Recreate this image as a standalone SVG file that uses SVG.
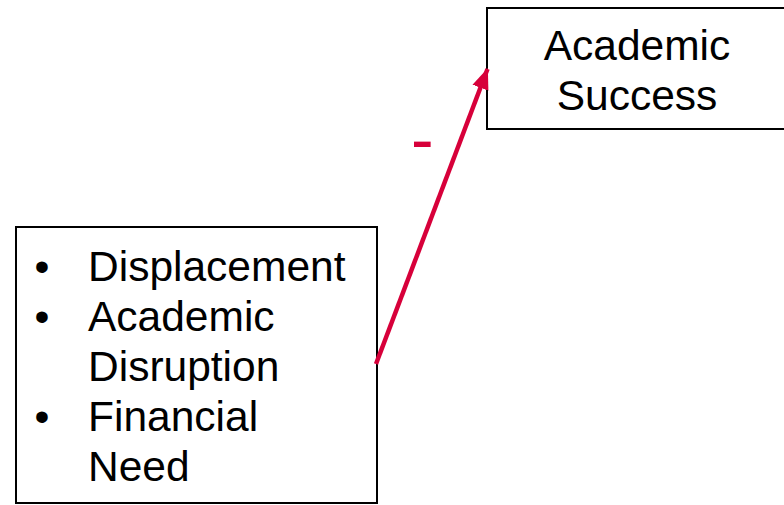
<svg xmlns="http://www.w3.org/2000/svg" width="784" height="505" viewBox="0 0 784 505">
<defs>
<style>
.box{fill:#fff;stroke:#000;stroke-width:2}
.t{font-family:"Liberation Sans",Arial,sans-serif;font-size:42.5px;fill:#000}
.conn{stroke:#d7003a;stroke-width:4.5;fill:none}
.sign{font-family:"Liberation Sans",Arial,sans-serif;font-size:68px;fill:#d7003a}
</style>
<marker id="ah" markerUnits="userSpaceOnUse" markerWidth="22" markerHeight="22" viewBox="0 0 22 22" refX="20" refY="11" orient="auto">
<path d="M0,2.5 L21,11 L0,19.5 Z" fill="#d7003a"/>
</marker>
</defs>
<rect width="784" height="505" fill="#fff"/>
<g id="factors">
<rect class="box" x="16" y="227" width="361" height="276"/>
<text class="t" x="34.5" y="281">•</text>
<text class="t" x="88" y="281">Displacement</text>
<text class="t" x="34.5" y="331">•</text>
<text class="t" x="88" y="331">Academic</text>
<text class="t" x="88" y="381">Disruption</text>
<text class="t" x="34.5" y="431">•</text>
<text class="t" x="88" y="431">Financial</text>
<text class="t" x="88" y="481">Need</text>
</g>
<g id="success">
<rect class="box" x="487" y="8" width="310" height="121"/>
<text class="t" x="637" y="60" text-anchor="middle">Academic</text>
<text class="t" x="637" y="110" text-anchor="middle">Success</text>
</g>
<g id="connectors">
<line class="conn" x1="376" y1="364" x2="487.5" y2="69" marker-end="url(#ah)"/>
<text class="sign" x="411" y="163">-</text>
</g>
</svg>
